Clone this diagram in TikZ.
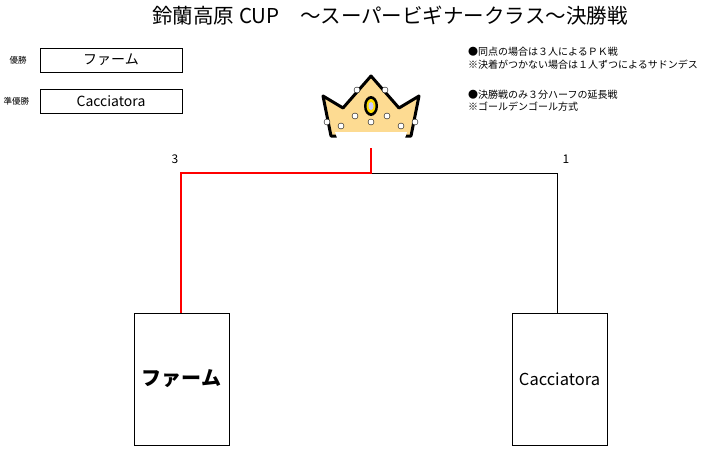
\documentclass[tikz,border=0pt]{standalone}
\usepackage{fontspec}
\setmainfont{Noto Sans CJK JP}
\usetikzlibrary{positioning}
\tikzset{
  namebox/.style={draw,thick,minimum width=142pt,minimum height=24pt,inner sep=0pt,font=\fontsize{14}{14}\selectfont},
  teambox/.style={draw,thick,minimum width=95pt,minimum height=132pt,inner sep=0pt},
  win/.style={red,line width=1.6pt},
  lose/.style={black,line width=0.8pt},
  note/.style={anchor=west,font=\fontsize{10}{11}\selectfont,inner sep=0pt}
}
\begin{document}
\begin{tikzpicture}[x=1pt,y=-1pt]
  \useasboundingbox (0,0) rectangle (710,455);
  \node (title) at (390,16) {\fontsize{20.5}{20.5}\selectfont 鈴蘭高原 CUP\quad ～スーパービギナークラス～決勝戦};

  % results
  \node[anchor=west,font=\fontsize{8.5}{8.5}\selectfont] (lwin) at (6,60) {優勝};
  \node[namebox] (bwin) at (111,60) {ファーム};
  \node[anchor=west,font=\fontsize{8.5}{8.5}\selectfont] (lsec) at (0,101) {準優勝};
  \node[namebox] (bsec) at (111,101) {Cacciatora};

  % notes
  \node[note] (n1) at (468,52) {●同点の場合は３人によるＰＫ戦};
  \node[note] (n2) at (468,65) {※決着がつかない場合は１人ずつによるサドンデス};
  \node[note] (n3) at (468,95) {●決勝戦のみ３分ハーフの延長戦};
  \node[note] (n4) at (468,107) {※ゴールデンゴール方式};

  % crown
  \begin{scope}[shift={(371,108)}]
    \filldraw[fill=yellow!35!orange!40,draw=black,line width=3pt,line join=round]
      (-40,28) -- (-48,-12) -- (-28,0) -- (0,-32) -- (28,0) -- (48,-12) -- (40,28) -- cycle;
    \fill[white] (-36,24) -- (36,24) -- (34,30) -- (-34,30) -- cycle;
    \fill[black] (0,-2) ellipse (7pt and 10pt);
    \fill[yellow!80!orange] (0,-2) ellipse (4.5pt and 7pt);
    \fill[white!80!blue] (0,-2) ellipse (2.5pt and 4pt);
    \foreach \p in {(-44,14),(44,14),(-14,-18),(14,-18),(-16,8),(16,8),(0,14),(-30,18),(30,18)}
      \filldraw[fill=white,draw=black,thin] \p circle (3pt);
  \end{scope}

  % bracket
  \node[teambox,font=\fontsize{20}{20}\selectfont\bfseries] (tl) at (181.5,379) {ファーム};
  \node[teambox,font=\fontsize{16.5}{16.5}\selectfont] (tr) at (559.5,379) {Cacciatora};
  \coordinate (top) at (371,148);
  \coordinate (mid) at (371,173);
  \coordinate (cl) at (181,173);
  \coordinate (cr) at (557,173);
  \draw[lose] (mid) -- (cr) -- (cr |- tr.north);
  \draw[win] (top) -- (mid) -- (cl) -- (cl |- tl.north);
  \node[font=\fontsize{12}{12}\selectfont] (s1) at (175,159) {3};
  \node[font=\fontsize{12}{12}\selectfont] (s2) at (566,159) {1};
\end{tikzpicture}
\end{document}
